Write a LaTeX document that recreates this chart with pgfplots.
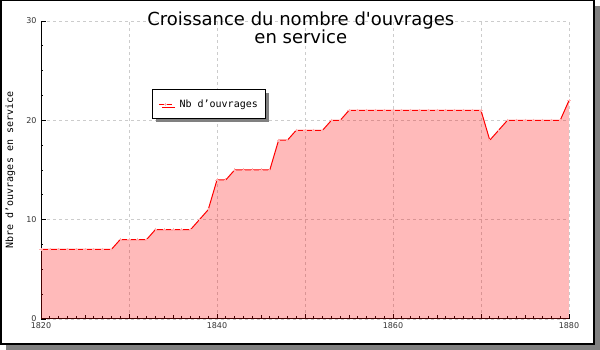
\documentclass[border=0pt]{standalone}
\usepackage{pgfplots}
\pgfplotsset{compat=1.18}
\usepackage{pgfplotstable}
\usepackage{fontspec}
\setmainfont{DejaVu Sans}
\newfontfamily\titlefont{DejaVu Sans}
\newfontfamily\monofont{DejaVu Sans Mono}
\usetikzlibrary{shadows}
\pgfplotstableread{
year n
1820 7
1821 7
1822 7
1823 7
1824 7
1825 7
1826 7
1827 7
1828 7
1829 8
1830 8
1831 8
1832 8
1833 9
1834 9
1835 9
1836 9
1837 9
1838 10
1839 11
1840 14
1841 14
1842 15
1843 15
1844 15
1845 15
1846 15
1847 18
1848 18
1849 19
1850 19
1851 19
1852 19
1853 20
1854 20
1855 21
1856 21
1857 21
1858 21
1859 21
1860 21
1861 21
1862 21
1863 21
1864 21
1865 21
1866 21
1867 21
1868 21
1869 21
1870 21
1871 18
1872 19
1873 20
1874 20
1875 20
1876 20
1877 20
1878 20
1879 20
1880 22
}\datatable
\begin{document}
\begin{tikzpicture}
\useasboundingbox (0pt,0pt) rectangle (600pt,350pt);
\fill[gray] (6pt,0pt) rectangle (600pt,344pt);
\draw[black, line width=1.5pt, fill=white] (0.75pt,349.25pt) rectangle (594pt,6pt);
\begin{axis}[
  at={(41pt,31pt)}, anchor=south west,
  scale only axis, width=528pt, height=298pt,
  xmin=1820, xmax=1880, ymin=0, ymax=30,
  axis x line*=bottom, axis y line*=left,
  x axis line style={-, line width=1pt}, y axis line style={-, line width=1pt},
  tick align=inside,
  xtick={1820,1830,1840,1850,1860,1870,1880},
  xticklabels={1820,,1840,,1860,,1880},
  extra x ticks={1825,1835,1845,1855,1865,1875},
  extra x tick labels={},
  extra x tick style={grid=none, major tick length=4pt},
  minor x tick num=9,
  ytick={0,10,20,30},
  minor y tick num=3,
  major tick length=5pt, minor tick length=2.5pt,
  tick style={black, line width=0.8pt},
  grid=major,
  major grid style={dash pattern=on 3pt off 3pt, gray!40, line width=0.8pt},
  /pgf/number format/assume math mode=true,
  /pgf/number format/1000 sep={},
  tick label style={font=\fontsize{8}{8}\selectfont, color=black!80},
  yticklabel style={xshift=-1pt},
  ylabel={Nbre d’ouvrages en service},
  ylabel style={at={(axis description cs:-0.058,0.5)}, anchor=center, font=\monofont\fontsize{10}{10}\selectfont},
  title={Croissance du nombre d'ouvrages\\en service},
  title style={at={(axis description cs:0.492,1)}, anchor=center, yshift=-13pt, align=center, font=\titlefont\fontsize{18}{18}\selectfont},
  legend style={at={(0.2102,0.7718)}, anchor=north west, font=\monofont\fontsize{10}{10}\selectfont,
    draw=black, line width=1.2pt, inner xsep=6pt, inner ysep=8pt,
    /tikz/every odd column/.append style={column sep=5pt},
    drop shadow={shadow xshift=3pt, shadow yshift=-3pt, fill=gray, opacity=1}},
  legend image code/.code={\draw[#1, line width=1pt] plot coordinates {(0pt,0pt) (6.5pt,0pt) (13pt,0pt)};},
]
\addplot[draw=none, fill=red, fill opacity=0.27, forget plot] table[x=year, y=n] {\datatable} \closedcycle;
\addplot[red, line width=1pt, mark=+, mark size=1.6pt, mark options={red!30, line width=0.6pt}, mark phase=2, mark repeat=2] table[x=year, y=n] {\datatable};
\addplot[red, line width=1pt, mark=+, mark size=1.6pt, mark options={red!30, line width=0.6pt}, forget plot, draw=none, only marks, mark phase=1, mark repeat=2] table[x=year, y=n] {\datatable};
\addlegendentry{Nb d’ouvrages}
\end{axis}
\end{tikzpicture}
\end{document}
